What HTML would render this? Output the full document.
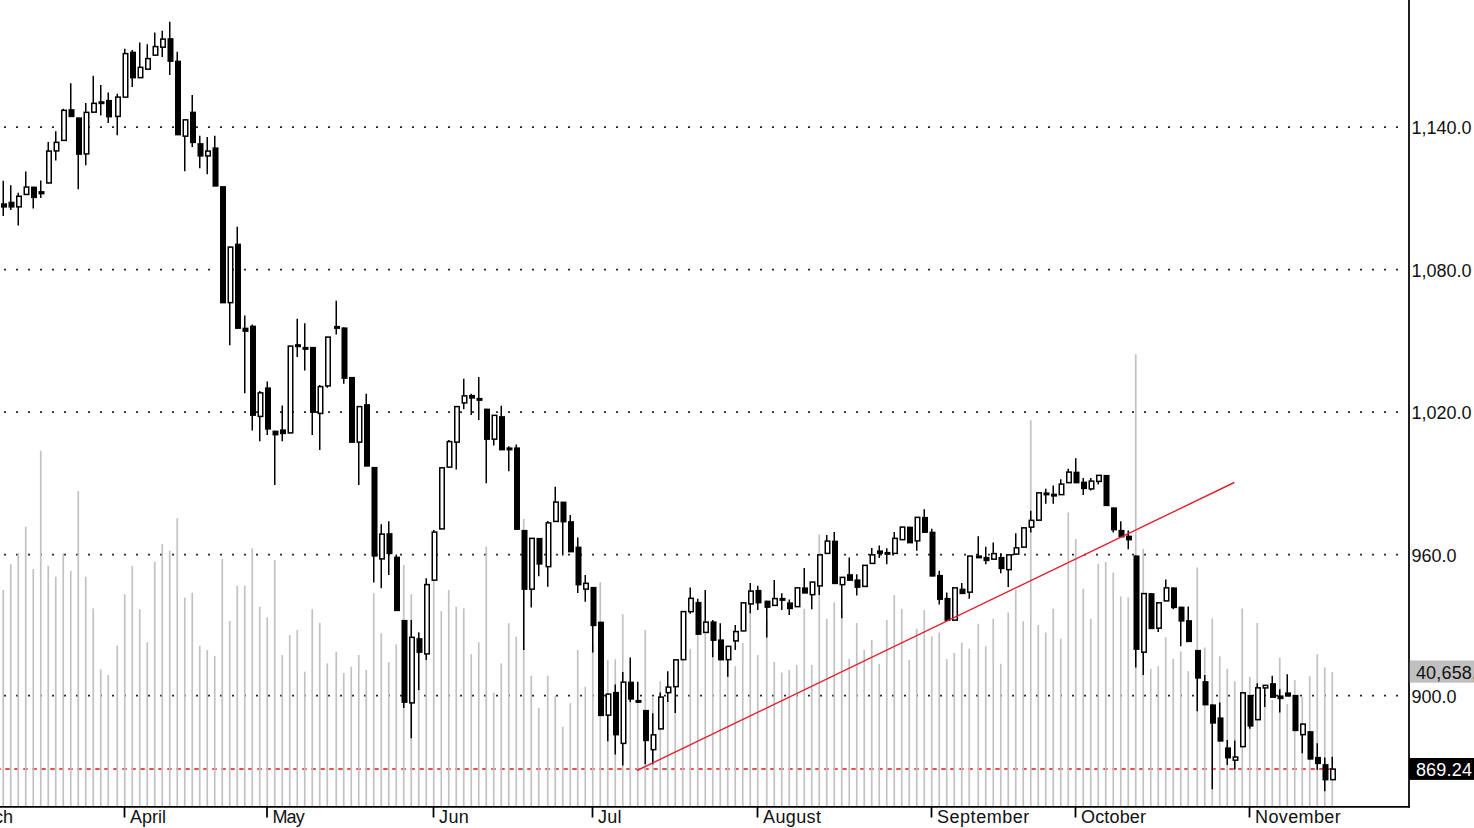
<!DOCTYPE html>
<html lang="en"><head><meta charset="utf-8"><title>Chart</title>
<style>
html,body{margin:0;padding:0;background:#fff;}
body{width:1474px;height:828px;overflow:hidden;}
svg{display:block;}
text{font-family:"Liberation Sans",Arial,sans-serif;font-size:18px;fill:#111;}
.v{stroke:#c2c2c2;stroke-width:1.7;}
.w{stroke:#000;stroke-width:1.5;}
.f{fill:#000;}
.h{fill:#fff;stroke:#000;stroke-width:1.5;}
.g{stroke:#000;stroke-width:1.7;stroke-dasharray:1.7 10.3;}
.a{stroke:#000;stroke-width:1.75;}
</style></head><body>
<svg width="1474" height="828" viewBox="0 0 1474 828">
<rect width="1474" height="828" fill="#fff"/>
<line x1="0" y1="769" x2="1331" y2="769" stroke="#e01818" stroke-width="1.6" stroke-dasharray="4.5 4.5" stroke-dashoffset="3.75"/>
<g class="g">
<line x1="4.15" y1="127.15" x2="1408" y2="127.15"/>
<line x1="4.15" y1="269.65" x2="1408" y2="269.65"/>
<line x1="4.15" y1="412.15" x2="1408" y2="412.15"/>
<line x1="4.15" y1="554.65" x2="1408" y2="554.65"/>
<line x1="4.15" y1="695.65" x2="1408" y2="695.65"/>
</g>
<g class="v">
<line x1="3.25" y1="590" x2="3.25" y2="806"/>
<line x1="10.75" y1="564.3" x2="10.75" y2="806"/>
<line x1="18.25" y1="553.3" x2="18.25" y2="806"/>
<line x1="25.75" y1="526.7" x2="25.75" y2="806"/>
<line x1="33.25" y1="569" x2="33.25" y2="806"/>
<line x1="40.75" y1="450.7" x2="40.75" y2="806"/>
<line x1="48.25" y1="565.7" x2="48.25" y2="806"/>
<line x1="55.75" y1="576.7" x2="55.75" y2="806"/>
<line x1="63.25" y1="553.3" x2="63.25" y2="806"/>
<line x1="70.75" y1="570.7" x2="70.75" y2="806"/>
<line x1="78.25" y1="491" x2="78.25" y2="806"/>
<line x1="85.75" y1="576.7" x2="85.75" y2="806"/>
<line x1="93.25" y1="608.3" x2="93.25" y2="806"/>
<line x1="100.75" y1="669.3" x2="100.75" y2="806"/>
<line x1="108.25" y1="675" x2="108.25" y2="806"/>
<line x1="117.25" y1="645.7" x2="117.25" y2="806"/>
<line x1="124.75" y1="594.3" x2="124.75" y2="806"/>
<line x1="132.25" y1="566" x2="132.25" y2="806"/>
<line x1="139.75" y1="609.3" x2="139.75" y2="806"/>
<line x1="147.25" y1="642.3" x2="147.25" y2="806"/>
<line x1="154.75" y1="561.7" x2="154.75" y2="806"/>
<line x1="162.25" y1="544" x2="162.25" y2="806"/>
<line x1="169.75" y1="550.7" x2="169.75" y2="806"/>
<line x1="177.25" y1="518.3" x2="177.25" y2="806"/>
<line x1="184.75" y1="597.7" x2="184.75" y2="806"/>
<line x1="192.25" y1="592.7" x2="192.25" y2="806"/>
<line x1="199.75" y1="645.7" x2="199.75" y2="806"/>
<line x1="207.25" y1="650" x2="207.25" y2="806"/>
<line x1="214.75" y1="656" x2="214.75" y2="806"/>
<line x1="222.25" y1="559" x2="222.25" y2="806"/>
<line x1="229.75" y1="621" x2="229.75" y2="806"/>
<line x1="237.25" y1="585.7" x2="237.25" y2="806"/>
<line x1="244.75" y1="585.7" x2="244.75" y2="806"/>
<line x1="252.25" y1="548.3" x2="252.25" y2="806"/>
<line x1="259.75" y1="606.7" x2="259.75" y2="806"/>
<line x1="267.25" y1="617.3" x2="267.25" y2="806"/>
<line x1="274.75" y1="560" x2="274.75" y2="806"/>
<line x1="282.25" y1="655" x2="282.25" y2="806"/>
<line x1="289.75" y1="635" x2="289.75" y2="806"/>
<line x1="297.25" y1="630" x2="297.25" y2="806"/>
<line x1="304.75" y1="671.7" x2="304.75" y2="806"/>
<line x1="312.25" y1="609.3" x2="312.25" y2="806"/>
<line x1="319.75" y1="622.7" x2="319.75" y2="806"/>
<line x1="327.25" y1="663.3" x2="327.25" y2="806"/>
<line x1="336.25" y1="651.7" x2="336.25" y2="806"/>
<line x1="343.75" y1="673" x2="343.75" y2="806"/>
<line x1="351.25" y1="666.7" x2="351.25" y2="806"/>
<line x1="358.75" y1="655" x2="358.75" y2="806"/>
<line x1="366.25" y1="670" x2="366.25" y2="806"/>
<line x1="373.75" y1="593.3" x2="373.75" y2="806"/>
<line x1="381.25" y1="633.3" x2="381.25" y2="806"/>
<line x1="388.75" y1="662.3" x2="388.75" y2="806"/>
<line x1="396.25" y1="644.3" x2="396.25" y2="806"/>
<line x1="403.75" y1="565" x2="403.75" y2="806"/>
<line x1="411.25" y1="594.3" x2="411.25" y2="806"/>
<line x1="418.75" y1="632" x2="418.75" y2="806"/>
<line x1="426.25" y1="620" x2="426.25" y2="806"/>
<line x1="433.75" y1="581" x2="433.75" y2="806"/>
<line x1="441.25" y1="611" x2="441.25" y2="806"/>
<line x1="448.75" y1="590" x2="448.75" y2="806"/>
<line x1="456.25" y1="606.7" x2="456.25" y2="806"/>
<line x1="463.75" y1="608.3" x2="463.75" y2="806"/>
<line x1="471.25" y1="654.3" x2="471.25" y2="806"/>
<line x1="478.75" y1="642.3" x2="478.75" y2="806"/>
<line x1="486.25" y1="546.7" x2="486.25" y2="806"/>
<line x1="493.75" y1="692.7" x2="493.75" y2="806"/>
<line x1="501.25" y1="663.3" x2="501.25" y2="806"/>
<line x1="508.75" y1="623.3" x2="508.75" y2="806"/>
<line x1="516.25" y1="636.7" x2="516.25" y2="806"/>
<line x1="523.75" y1="519" x2="523.75" y2="806"/>
<line x1="531.25" y1="675.7" x2="531.25" y2="806"/>
<line x1="538.75" y1="707.7" x2="538.75" y2="806"/>
<line x1="547.75" y1="675.7" x2="547.75" y2="806"/>
<line x1="555.25" y1="695.7" x2="555.25" y2="806"/>
<line x1="562.75" y1="726.7" x2="562.75" y2="806"/>
<line x1="570.25" y1="703.3" x2="570.25" y2="806"/>
<line x1="577.75" y1="650" x2="577.75" y2="806"/>
<line x1="585.25" y1="686.7" x2="585.25" y2="806"/>
<line x1="592.75" y1="645" x2="592.75" y2="806"/>
<line x1="600.25" y1="582.3" x2="600.25" y2="806"/>
<line x1="607.75" y1="660" x2="607.75" y2="806"/>
<line x1="615.25" y1="659.25" x2="615.25" y2="806"/>
<line x1="622.75" y1="614.25" x2="622.75" y2="806"/>
<line x1="630.25" y1="690" x2="630.25" y2="806"/>
<line x1="637.75" y1="702" x2="637.75" y2="806"/>
<line x1="645.25" y1="630" x2="645.25" y2="806"/>
<line x1="652.75" y1="697.5" x2="652.75" y2="806"/>
<line x1="660.25" y1="681.25" x2="660.25" y2="806"/>
<line x1="667.75" y1="700" x2="667.75" y2="806"/>
<line x1="675.25" y1="700" x2="675.25" y2="806"/>
<line x1="682.75" y1="650" x2="682.75" y2="806"/>
<line x1="690.25" y1="648.75" x2="690.25" y2="806"/>
<line x1="697.75" y1="630" x2="697.75" y2="806"/>
<line x1="705.25" y1="625" x2="705.25" y2="806"/>
<line x1="712.75" y1="650" x2="712.75" y2="806"/>
<line x1="720.25" y1="655" x2="720.25" y2="806"/>
<line x1="727.75" y1="660" x2="727.75" y2="806"/>
<line x1="735.25" y1="666.25" x2="735.25" y2="806"/>
<line x1="742.75" y1="643" x2="742.75" y2="806"/>
<line x1="750.25" y1="612" x2="750.25" y2="806"/>
<line x1="757.75" y1="655" x2="757.75" y2="806"/>
<line x1="766.75" y1="620" x2="766.75" y2="806"/>
<line x1="774.25" y1="662" x2="774.25" y2="806"/>
<line x1="781.75" y1="672.5" x2="781.75" y2="806"/>
<line x1="789.25" y1="670" x2="789.25" y2="806"/>
<line x1="796.75" y1="665" x2="796.75" y2="806"/>
<line x1="804.25" y1="608.75" x2="804.25" y2="806"/>
<line x1="811.75" y1="665" x2="811.75" y2="806"/>
<line x1="819.25" y1="534.5" x2="819.25" y2="806"/>
<line x1="826.75" y1="618.75" x2="826.75" y2="806"/>
<line x1="834.25" y1="602.5" x2="834.25" y2="806"/>
<line x1="841.75" y1="610" x2="841.75" y2="806"/>
<line x1="849.25" y1="658.75" x2="849.25" y2="806"/>
<line x1="856.75" y1="623" x2="856.75" y2="806"/>
<line x1="864.25" y1="650" x2="864.25" y2="806"/>
<line x1="871.75" y1="640" x2="871.75" y2="806"/>
<line x1="879.25" y1="664" x2="879.25" y2="806"/>
<line x1="886.75" y1="620" x2="886.75" y2="806"/>
<line x1="894.25" y1="595" x2="894.25" y2="806"/>
<line x1="901.75" y1="608.75" x2="901.75" y2="806"/>
<line x1="909.25" y1="660" x2="909.25" y2="806"/>
<line x1="916.75" y1="628.75" x2="916.75" y2="806"/>
<line x1="924.25" y1="610" x2="924.25" y2="806"/>
<line x1="931.75" y1="636.25" x2="931.75" y2="806"/>
<line x1="939.25" y1="632.5" x2="939.25" y2="806"/>
<line x1="946.75" y1="659" x2="946.75" y2="806"/>
<line x1="954.25" y1="653" x2="954.25" y2="806"/>
<line x1="961.75" y1="642.5" x2="961.75" y2="806"/>
<line x1="969.25" y1="648.75" x2="969.25" y2="806"/>
<line x1="978.25" y1="623.75" x2="978.25" y2="806"/>
<line x1="985.75" y1="646.25" x2="985.75" y2="806"/>
<line x1="993.25" y1="618.75" x2="993.25" y2="806"/>
<line x1="1000.75" y1="663.75" x2="1000.75" y2="806"/>
<line x1="1008.25" y1="612.5" x2="1008.25" y2="806"/>
<line x1="1015.75" y1="590" x2="1015.75" y2="806"/>
<line x1="1023.25" y1="621.25" x2="1023.25" y2="806"/>
<line x1="1030.75" y1="420.2" x2="1030.75" y2="806"/>
<line x1="1038.25" y1="625" x2="1038.25" y2="806"/>
<line x1="1045.75" y1="632.5" x2="1045.75" y2="806"/>
<line x1="1053.25" y1="608.75" x2="1053.25" y2="806"/>
<line x1="1060.75" y1="638.75" x2="1060.75" y2="806"/>
<line x1="1068.25" y1="512.5" x2="1068.25" y2="806"/>
<line x1="1075.75" y1="539" x2="1075.75" y2="806"/>
<line x1="1083.25" y1="588.75" x2="1083.25" y2="806"/>
<line x1="1090.75" y1="618.75" x2="1090.75" y2="806"/>
<line x1="1098.25" y1="563.75" x2="1098.25" y2="806"/>
<line x1="1105.75" y1="562" x2="1105.75" y2="806"/>
<line x1="1113.25" y1="572.5" x2="1113.25" y2="806"/>
<line x1="1120.75" y1="596.5" x2="1120.75" y2="806"/>
<line x1="1128.25" y1="597.5" x2="1128.25" y2="806"/>
<line x1="1135.75" y1="354.2" x2="1135.75" y2="806"/>
<line x1="1143.25" y1="548.75" x2="1143.25" y2="806"/>
<line x1="1150.75" y1="668.75" x2="1150.75" y2="806"/>
<line x1="1158.25" y1="666.25" x2="1158.25" y2="806"/>
<line x1="1165.75" y1="637.25" x2="1165.75" y2="806"/>
<line x1="1173.25" y1="658.75" x2="1173.25" y2="806"/>
<line x1="1180.75" y1="651.5" x2="1180.75" y2="806"/>
<line x1="1188.25" y1="671.25" x2="1188.25" y2="806"/>
<line x1="1197.25" y1="567.5" x2="1197.25" y2="806"/>
<line x1="1204.75" y1="647.5" x2="1204.75" y2="806"/>
<line x1="1212.25" y1="618.5" x2="1212.25" y2="806"/>
<line x1="1219.75" y1="656.25" x2="1219.75" y2="806"/>
<line x1="1227.25" y1="668.75" x2="1227.25" y2="806"/>
<line x1="1234.75" y1="681.25" x2="1234.75" y2="806"/>
<line x1="1242.25" y1="608.5" x2="1242.25" y2="806"/>
<line x1="1249.75" y1="676.75" x2="1249.75" y2="806"/>
<line x1="1257.25" y1="623" x2="1257.25" y2="806"/>
<line x1="1264.75" y1="700" x2="1264.75" y2="806"/>
<line x1="1272.25" y1="700" x2="1272.25" y2="806"/>
<line x1="1279.75" y1="657.5" x2="1279.75" y2="806"/>
<line x1="1287.25" y1="704" x2="1287.25" y2="806"/>
<line x1="1294.75" y1="680" x2="1294.75" y2="806"/>
<line x1="1302.25" y1="697" x2="1302.25" y2="806"/>
<line x1="1309.75" y1="676.25" x2="1309.75" y2="806"/>
<line x1="1317.25" y1="654.25" x2="1317.25" y2="806"/>
<line x1="1324.75" y1="667.5" x2="1324.75" y2="806"/>
<line x1="1332.25" y1="672" x2="1332.25" y2="806"/>
</g>
<g>
<line class="w" x1="3.25" y1="180.8" x2="3.25" y2="216"/>
<rect class="f" x="1" y="203.3" width="6" height="4.3"/>
<line class="w" x1="10.75" y1="185.2" x2="10.75" y2="210"/>
<rect class="f" x="8.5" y="201.7" width="6" height="5.9"/>
<line class="w" x1="18.25" y1="192.7" x2="18.25" y2="225.4"/>
<rect class="h" x="16.75" y="196.25" width="4.5" height="10.6"/>
<line class="w" x1="25.75" y1="171.6" x2="25.75" y2="194.8"/>
<rect class="h" x="24.25" y="187.05" width="4.5" height="7.4"/>
<line class="w" x1="33.25" y1="186.7" x2="33.25" y2="208.4"/>
<rect class="f" x="31" y="186.6" width="6" height="11.5"/>
<line class="w" x1="40.75" y1="180.5" x2="40.75" y2="198.1"/>
<rect class="f" x="38.5" y="191.1" width="6" height="3.3"/>
<line class="w" x1="48.25" y1="142" x2="48.25" y2="183.3"/>
<rect class="h" x="46.75" y="151.1" width="4.5" height="31.85"/>
<line class="w" x1="55.75" y1="131.25" x2="55.75" y2="160.6"/>
<rect class="h" x="54.25" y="142.35" width="4.5" height="8.55"/>
<line class="w" x1="63.25" y1="108.75" x2="63.25" y2="140.75"/>
<rect class="h" x="61.75" y="110.35" width="4.5" height="30.05"/>
<line class="w" x1="70.75" y1="83.25" x2="70.75" y2="116.75"/>
<rect class="f" x="68.5" y="109.15" width="6" height="8"/>
<line class="w" x1="78.25" y1="117.5" x2="78.25" y2="189.3"/>
<rect class="f" x="76" y="117.4" width="6" height="37.5"/>
<line class="w" x1="85.75" y1="103" x2="85.75" y2="165.2"/>
<rect class="h" x="84.25" y="112.35" width="4.5" height="41.55"/>
<line class="w" x1="93.25" y1="75.75" x2="93.25" y2="112.5"/>
<rect class="h" x="91.75" y="103.35" width="4.5" height="8.8"/>
<line class="w" x1="100.75" y1="85" x2="100.75" y2="115.5"/>
<rect class="f" x="98.5" y="101.2" width="6" height="3"/>
<line class="w" x1="108.25" y1="92.5" x2="108.25" y2="123"/>
<rect class="f" x="106" y="99.9" width="6" height="17.5"/>
<line class="w" x1="117.25" y1="93.75" x2="117.25" y2="135.25"/>
<rect class="h" x="115.75" y="97.1" width="4.5" height="19.3"/>
<line class="w" x1="124.75" y1="48.75" x2="124.75" y2="97.5"/>
<rect class="h" x="123.25" y="53.6" width="4.5" height="43.55"/>
<line class="w" x1="132.25" y1="50" x2="132.25" y2="87"/>
<rect class="f" x="130" y="51.65" width="6" height="26.75"/>
<line class="w" x1="139.75" y1="42.5" x2="139.75" y2="78"/>
<rect class="h" x="138.25" y="67.35" width="4.5" height="10.3"/>
<line class="w" x1="147.25" y1="44.25" x2="147.25" y2="69.5"/>
<rect class="h" x="145.75" y="58.6" width="4.5" height="10.55"/>
<line class="w" x1="154.75" y1="32.5" x2="154.75" y2="55.5"/>
<rect class="h" x="153.25" y="46.6" width="4.5" height="8.55"/>
<line class="w" x1="162.25" y1="30.75" x2="162.25" y2="57"/>
<rect class="h" x="160.75" y="39.1" width="4.5" height="8.05"/>
<line class="w" x1="169.75" y1="21.75" x2="169.75" y2="75"/>
<rect class="f" x="167.5" y="38.15" width="6" height="23.75"/>
<line class="w" x1="177.25" y1="51.75" x2="177.25" y2="135"/>
<rect class="f" x="175" y="60.65" width="6" height="74.75"/>
<line class="w" x1="184.75" y1="119.5" x2="184.75" y2="171.25"/>
<rect class="h" x="183.25" y="119.85" width="4.5" height="16.3"/>
<line class="w" x1="192.25" y1="95" x2="192.25" y2="147"/>
<rect class="f" x="190" y="111.65" width="6" height="31.5"/>
<line class="w" x1="199.75" y1="135.75" x2="199.75" y2="168.25"/>
<rect class="f" x="197.5" y="143.15" width="6" height="13.5"/>
<line class="w" x1="207.25" y1="137" x2="207.25" y2="174.25"/>
<rect class="h" x="205.75" y="151.1" width="4.5" height="4.8"/>
<line class="w" x1="214.75" y1="135.75" x2="214.75" y2="186.25"/>
<rect class="f" x="212.5" y="147.4" width="6" height="39.25"/>
<line class="w" x1="222.25" y1="186.25" x2="222.25" y2="303"/>
<rect class="f" x="220" y="186.15" width="6" height="117.25"/>
<line class="w" x1="229.75" y1="246.75" x2="229.75" y2="345.25"/>
<rect class="h" x="228.25" y="247.1" width="4.5" height="55.55"/>
<line class="w" x1="237.25" y1="226.75" x2="237.25" y2="328.5"/>
<rect class="f" x="235" y="243.65" width="6" height="85.25"/>
<line class="w" x1="244.75" y1="315.5" x2="244.75" y2="393.25"/>
<rect class="f" x="242.5" y="327.65" width="6" height="4.25"/>
<line class="w" x1="252.25" y1="324.5" x2="252.25" y2="430.5"/>
<rect class="f" x="250" y="325.65" width="6" height="90.25"/>
<line class="w" x1="259.75" y1="391" x2="259.75" y2="441.25"/>
<rect class="h" x="258.25" y="392.85" width="4.5" height="23.55"/>
<line class="w" x1="267.25" y1="381.5" x2="267.25" y2="435"/>
<rect class="f" x="265" y="387.4" width="6" height="42.25"/>
<line class="w" x1="274.75" y1="430.75" x2="274.75" y2="485"/>
<rect class="f" x="272.5" y="430.65" width="6" height="4.75"/>
<line class="w" x1="282.25" y1="405.5" x2="282.25" y2="441.25"/>
<rect class="f" x="280" y="429.4" width="6" height="4.75"/>
<line class="w" x1="289.75" y1="345.75" x2="289.75" y2="433.25"/>
<rect class="h" x="288.25" y="346.1" width="4.5" height="86.8"/>
<line class="w" x1="297.25" y1="318.75" x2="297.25" y2="357"/>
<rect class="f" x="295" y="344.2" width="6" height="3"/>
<line class="w" x1="304.75" y1="323.25" x2="304.75" y2="370.5"/>
<rect class="f" x="302.5" y="346.9" width="6" height="3"/>
<line class="w" x1="312.25" y1="347" x2="312.25" y2="435"/>
<rect class="f" x="310" y="346.9" width="6" height="66"/>
<line class="w" x1="319.75" y1="385" x2="319.75" y2="450"/>
<rect class="h" x="318.25" y="386.6" width="4.5" height="26.8"/>
<line class="w" x1="327.25" y1="336.75" x2="327.25" y2="387.75"/>
<rect class="h" x="325.75" y="337.1" width="4.5" height="48.8"/>
<line class="w" x1="336.25" y1="300.75" x2="336.25" y2="334.5"/>
<rect class="f" x="334" y="325.9" width="6" height="3"/>
<line class="w" x1="343.75" y1="327.5" x2="343.75" y2="383.75"/>
<rect class="f" x="341.5" y="327.4" width="6" height="51.5"/>
<line class="w" x1="351.25" y1="377" x2="351.25" y2="442.5"/>
<rect class="f" x="349" y="376.9" width="6" height="66"/>
<line class="w" x1="358.75" y1="406.25" x2="358.75" y2="485"/>
<rect class="h" x="357.25" y="406.6" width="4.5" height="35.55"/>
<line class="w" x1="366.25" y1="393.75" x2="366.25" y2="466.25"/>
<rect class="f" x="364" y="404.15" width="6" height="62.5"/>
<line class="w" x1="373.75" y1="467" x2="373.75" y2="582.5"/>
<rect class="f" x="371.5" y="466.9" width="6" height="89.75"/>
<line class="w" x1="381.25" y1="524.25" x2="381.25" y2="588.25"/>
<rect class="h" x="379.75" y="534.1" width="4.5" height="24.8"/>
<line class="w" x1="388.75" y1="521.25" x2="388.75" y2="575"/>
<rect class="f" x="386.5" y="533.15" width="6" height="21"/>
<line class="w" x1="396.25" y1="554.5" x2="396.25" y2="610.75"/>
<rect class="f" x="394" y="556.65" width="6" height="54.5"/>
<line class="w" x1="403.75" y1="620" x2="403.75" y2="708"/>
<rect class="f" x="401.5" y="619.9" width="6" height="83"/>
<line class="w" x1="411.25" y1="620" x2="411.25" y2="738.25"/>
<rect class="h" x="409.75" y="637.35" width="4.5" height="65.55"/>
<line class="w" x1="418.75" y1="632.5" x2="418.75" y2="690"/>
<rect class="f" x="416.5" y="638.15" width="6" height="14.75"/>
<line class="w" x1="426.25" y1="578.25" x2="426.25" y2="660"/>
<rect class="h" x="424.75" y="584.6" width="4.5" height="69.3"/>
<line class="w" x1="433.75" y1="530" x2="433.75" y2="580.5"/>
<rect class="h" x="432.25" y="532.1" width="4.5" height="48.05"/>
<line class="w" x1="441.25" y1="467.5" x2="441.25" y2="529.25"/>
<rect class="h" x="439.75" y="467.85" width="4.5" height="61.05"/>
<line class="w" x1="448.75" y1="440" x2="448.75" y2="467.5"/>
<rect class="h" x="447.25" y="441.6" width="4.5" height="25.55"/>
<line class="w" x1="456.25" y1="406.25" x2="456.25" y2="469.5"/>
<rect class="h" x="454.75" y="406.6" width="4.5" height="35.55"/>
<line class="w" x1="463.75" y1="378.75" x2="463.75" y2="409.25"/>
<rect class="h" x="462.25" y="395.85" width="4.5" height="7.05"/>
<line class="w" x1="471.25" y1="393.75" x2="471.25" y2="415"/>
<rect class="f" x="469" y="394.9" width="6" height="3.75"/>
<line class="w" x1="478.75" y1="377" x2="478.75" y2="420"/>
<rect class="f" x="476.5" y="397.9" width="6" height="3"/>
<line class="w" x1="486.25" y1="408.75" x2="486.25" y2="483.25"/>
<rect class="f" x="484" y="408.65" width="6" height="31.25"/>
<line class="w" x1="493.75" y1="415" x2="493.75" y2="445.5"/>
<rect class="h" x="492.25" y="415.35" width="4.5" height="23.8"/>
<line class="w" x1="501.25" y1="405.75" x2="501.25" y2="450"/>
<rect class="f" x="499" y="416.15" width="6" height="34.25"/>
<line class="w" x1="508.75" y1="446.25" x2="508.75" y2="471.25"/>
<rect class="f" x="506.5" y="447.4" width="6" height="3"/>
<line class="w" x1="516.25" y1="444.5" x2="516.25" y2="529.5"/>
<rect class="f" x="514" y="447.4" width="6" height="82.5"/>
<line class="w" x1="523.75" y1="530" x2="523.75" y2="650"/>
<rect class="f" x="521.5" y="529.9" width="6" height="60"/>
<line class="w" x1="531.25" y1="538" x2="531.25" y2="607.5"/>
<rect class="h" x="529.75" y="538.35" width="4.5" height="50.8"/>
<line class="w" x1="538.75" y1="538" x2="538.75" y2="576.25"/>
<rect class="f" x="536.5" y="537.9" width="6" height="26.75"/>
<line class="w" x1="547.75" y1="521" x2="547.75" y2="586.75"/>
<rect class="h" x="546.25" y="522.85" width="4.5" height="43.8"/>
<line class="w" x1="555.25" y1="486.75" x2="555.25" y2="521.75"/>
<rect class="h" x="553.75" y="502.1" width="4.5" height="19.3"/>
<line class="w" x1="562.75" y1="501.75" x2="562.75" y2="555.5"/>
<rect class="f" x="560.5" y="501.65" width="6" height="20.75"/>
<line class="w" x1="570.25" y1="515" x2="570.25" y2="552"/>
<rect class="f" x="568" y="521.15" width="6" height="31.25"/>
<line class="w" x1="577.75" y1="537.5" x2="577.75" y2="593"/>
<rect class="f" x="575.5" y="546.65" width="6" height="38.75"/>
<line class="w" x1="585.25" y1="575" x2="585.25" y2="601.75"/>
<rect class="h" x="583.75" y="583.35" width="4.5" height="5.8"/>
<line class="w" x1="592.75" y1="587" x2="592.75" y2="652.5"/>
<rect class="f" x="590.5" y="586.9" width="6" height="39.25"/>
<line class="w" x1="600.25" y1="621.75" x2="600.25" y2="715.75"/>
<rect class="f" x="598" y="621.65" width="6" height="94.5"/>
<line class="w" x1="607.75" y1="693.75" x2="607.75" y2="741.25"/>
<rect class="h" x="606.25" y="694.1" width="4.5" height="21.05"/>
<line class="w" x1="615.25" y1="684.5" x2="615.25" y2="754.5"/>
<rect class="f" x="613" y="691.9" width="6" height="43.5"/>
<line class="w" x1="622.75" y1="672" x2="622.75" y2="765.5"/>
<rect class="h" x="621.25" y="682.1" width="4.5" height="61.3"/>
<line class="w" x1="630.25" y1="657.5" x2="630.25" y2="702"/>
<rect class="f" x="628" y="681.65" width="6" height="18"/>
<line class="w" x1="637.75" y1="681.75" x2="637.75" y2="702.5"/>
<rect class="f" x="635.5" y="699.9" width="6" height="3"/>
<line class="w" x1="645.25" y1="710" x2="645.25" y2="764.25"/>
<rect class="f" x="643" y="709.9" width="6" height="31.25"/>
<line class="w" x1="652.75" y1="713.25" x2="652.75" y2="764.25"/>
<rect class="h" x="651.25" y="734.85" width="4.5" height="14.8"/>
<line class="w" x1="660.25" y1="692.5" x2="660.25" y2="729.25"/>
<rect class="h" x="658.75" y="697.1" width="4.5" height="31.8"/>
<line class="w" x1="667.75" y1="671.25" x2="667.75" y2="702"/>
<rect class="h" x="666.25" y="687.1" width="4.5" height="5.55"/>
<line class="w" x1="675.25" y1="659.5" x2="675.25" y2="713"/>
<rect class="h" x="673.75" y="659.85" width="4.5" height="26.8"/>
<line class="w" x1="682.75" y1="611.25" x2="682.75" y2="660"/>
<rect class="h" x="681.25" y="611.6" width="4.5" height="48.05"/>
<line class="w" x1="690.25" y1="587.5" x2="690.25" y2="613.75"/>
<rect class="h" x="688.75" y="598.35" width="4.5" height="13.3"/>
<line class="w" x1="697.75" y1="598.75" x2="697.75" y2="634.5"/>
<rect class="f" x="695.5" y="601.9" width="6" height="33"/>
<line class="w" x1="705.25" y1="590" x2="705.25" y2="632.75"/>
<rect class="h" x="703.75" y="622.1" width="4.5" height="10.3"/>
<line class="w" x1="712.75" y1="620" x2="712.75" y2="657.25"/>
<rect class="f" x="710.5" y="621.4" width="6" height="19.5"/>
<line class="w" x1="720.25" y1="623.25" x2="720.25" y2="660"/>
<rect class="f" x="718" y="639.4" width="6" height="21"/>
<line class="w" x1="727.75" y1="646" x2="727.75" y2="676.75"/>
<rect class="h" x="726.25" y="646.35" width="4.5" height="13.3"/>
<line class="w" x1="735.25" y1="625" x2="735.25" y2="650"/>
<rect class="h" x="733.75" y="631.6" width="4.5" height="9.3"/>
<line class="w" x1="742.75" y1="602.5" x2="742.75" y2="631.25"/>
<rect class="h" x="741.25" y="602.85" width="4.5" height="28.05"/>
<line class="w" x1="750.25" y1="583" x2="750.25" y2="613.25"/>
<rect class="h" x="748.75" y="591.1" width="4.5" height="12.8"/>
<line class="w" x1="757.75" y1="585.75" x2="757.75" y2="610"/>
<rect class="f" x="755.5" y="589.9" width="6" height="13.5"/>
<line class="w" x1="766.75" y1="600.75" x2="766.75" y2="637.5"/>
<rect class="f" x="764.5" y="600.65" width="6" height="7.25"/>
<line class="w" x1="774.25" y1="580" x2="774.25" y2="605.75"/>
<rect class="h" x="772.75" y="598.6" width="4.5" height="6.8"/>
<line class="w" x1="781.75" y1="593.25" x2="781.75" y2="610"/>
<rect class="f" x="779.5" y="597.9" width="6" height="3"/>
<line class="w" x1="789.25" y1="599.5" x2="789.25" y2="615"/>
<rect class="f" x="787" y="602.4" width="6" height="6.75"/>
<line class="w" x1="796.75" y1="587.5" x2="796.75" y2="607"/>
<rect class="h" x="795.25" y="587.85" width="4.5" height="18.8"/>
<line class="w" x1="804.25" y1="568" x2="804.25" y2="593.25"/>
<rect class="f" x="802" y="587.4" width="6" height="6.25"/>
<line class="w" x1="811.75" y1="581.75" x2="811.75" y2="609.25"/>
<rect class="h" x="810.25" y="582.1" width="4.5" height="12.55"/>
<line class="w" x1="819.25" y1="554.5" x2="819.25" y2="595"/>
<rect class="h" x="817.75" y="554.85" width="4.5" height="31.05"/>
<line class="w" x1="826.75" y1="535" x2="826.75" y2="553.75"/>
<rect class="h" x="825.25" y="541.1" width="4.5" height="12.3"/>
<line class="w" x1="834.25" y1="532" x2="834.25" y2="583.75"/>
<rect class="f" x="832" y="540.65" width="6" height="43.5"/>
<line class="w" x1="841.75" y1="577" x2="841.75" y2="618.25"/>
<rect class="h" x="840.25" y="577.35" width="4.5" height="7.3"/>
<line class="w" x1="849.25" y1="557.5" x2="849.25" y2="580.5"/>
<rect class="f" x="847" y="574.15" width="6" height="6.75"/>
<line class="w" x1="856.75" y1="574.25" x2="856.75" y2="595.5"/>
<rect class="f" x="854.5" y="579.4" width="6" height="8.5"/>
<line class="w" x1="864.25" y1="565" x2="864.25" y2="586.75"/>
<rect class="h" x="862.75" y="565.35" width="4.5" height="21.05"/>
<line class="w" x1="871.75" y1="548" x2="871.75" y2="563.75"/>
<rect class="h" x="870.25" y="554.85" width="4.5" height="8.55"/>
<line class="w" x1="879.25" y1="545.5" x2="879.25" y2="558"/>
<rect class="f" x="877" y="550.4" width="6" height="3.5"/>
<line class="w" x1="886.75" y1="548.25" x2="886.75" y2="564.25"/>
<rect class="f" x="884.5" y="551.9" width="6" height="3"/>
<line class="w" x1="894.25" y1="532" x2="894.25" y2="553.75"/>
<rect class="h" x="892.75" y="538.35" width="4.5" height="15.05"/>
<line class="w" x1="901.75" y1="526.75" x2="901.75" y2="540"/>
<rect class="h" x="900.25" y="527.1" width="4.5" height="12.55"/>
<line class="w" x1="909.25" y1="526.75" x2="909.25" y2="543"/>
<rect class="f" x="907" y="526.65" width="6" height="16.75"/>
<line class="w" x1="916.75" y1="517" x2="916.75" y2="550.75"/>
<rect class="h" x="915.25" y="517.35" width="4.5" height="23.55"/>
<line class="w" x1="924.25" y1="509.25" x2="924.25" y2="532.5"/>
<rect class="f" x="922" y="516.9" width="6" height="16"/>
<line class="w" x1="931.75" y1="528.75" x2="931.75" y2="576.25"/>
<rect class="f" x="929.5" y="531.65" width="6" height="45"/>
<line class="w" x1="939.25" y1="570.75" x2="939.25" y2="604.5"/>
<rect class="f" x="937" y="574.9" width="6" height="25"/>
<line class="w" x1="946.75" y1="592.5" x2="946.75" y2="620.5"/>
<rect class="f" x="944.5" y="597.9" width="6" height="23"/>
<line class="w" x1="954.25" y1="587.5" x2="954.25" y2="620.5"/>
<rect class="h" x="952.75" y="587.85" width="4.5" height="32.3"/>
<line class="w" x1="961.75" y1="583" x2="961.75" y2="593.75"/>
<rect class="f" x="959.5" y="588.65" width="6" height="5.5"/>
<line class="w" x1="969.25" y1="555.75" x2="969.25" y2="598.75"/>
<rect class="h" x="967.75" y="556.1" width="4.5" height="36.05"/>
<line class="w" x1="978.25" y1="536.25" x2="978.25" y2="558"/>
<rect class="f" x="976" y="555.4" width="6" height="3"/>
<line class="w" x1="985.75" y1="546.75" x2="985.75" y2="564.25"/>
<rect class="f" x="983.5" y="556.9" width="6" height="4.25"/>
<line class="w" x1="993.25" y1="542.5" x2="993.25" y2="559.5"/>
<rect class="h" x="991.75" y="553.6" width="4.5" height="5.55"/>
<line class="w" x1="1000.75" y1="553.25" x2="1000.75" y2="573.25"/>
<rect class="f" x="998.5" y="556.9" width="6" height="12.25"/>
<line class="w" x1="1008.25" y1="554.5" x2="1008.25" y2="587"/>
<rect class="h" x="1006.75" y="554.85" width="4.5" height="14.8"/>
<line class="w" x1="1015.75" y1="533.25" x2="1015.75" y2="554.5"/>
<rect class="h" x="1014.25" y="547.85" width="4.5" height="6.3"/>
<line class="w" x1="1023.25" y1="527.5" x2="1023.25" y2="547.5"/>
<rect class="h" x="1021.75" y="527.85" width="4.5" height="19.3"/>
<line class="w" x1="1030.75" y1="510.75" x2="1030.75" y2="532.5"/>
<rect class="h" x="1029.25" y="520.35" width="4.5" height="6.8"/>
<line class="w" x1="1038.25" y1="492.5" x2="1038.25" y2="520.5"/>
<rect class="h" x="1036.75" y="492.85" width="4.5" height="27.3"/>
<line class="w" x1="1045.75" y1="488.75" x2="1045.75" y2="503.75"/>
<rect class="f" x="1043.5" y="492.4" width="6" height="3"/>
<line class="w" x1="1053.25" y1="485.5" x2="1053.25" y2="503.75"/>
<rect class="f" x="1051" y="493.65" width="6" height="3"/>
<line class="w" x1="1060.75" y1="479.25" x2="1060.75" y2="495"/>
<rect class="h" x="1059.25" y="484.1" width="4.5" height="10.55"/>
<line class="w" x1="1068.25" y1="468.75" x2="1068.25" y2="483"/>
<rect class="h" x="1066.75" y="472.1" width="4.5" height="10.55"/>
<line class="w" x1="1075.75" y1="458.25" x2="1075.75" y2="483"/>
<rect class="f" x="1073.5" y="471.65" width="6" height="11.75"/>
<line class="w" x1="1083.25" y1="478" x2="1083.25" y2="495"/>
<rect class="f" x="1081" y="481.65" width="6" height="7.5"/>
<line class="w" x1="1090.75" y1="478" x2="1090.75" y2="490.5"/>
<rect class="h" x="1089.25" y="481.1" width="4.5" height="7.8"/>
<line class="w" x1="1098.25" y1="475" x2="1098.25" y2="484.5"/>
<rect class="h" x="1096.75" y="475.35" width="4.5" height="6.05"/>
<line class="w" x1="1105.75" y1="475" x2="1105.75" y2="505.75"/>
<rect class="f" x="1103.5" y="474.9" width="6" height="31.25"/>
<line class="w" x1="1113.25" y1="507.5" x2="1113.25" y2="532.5"/>
<rect class="f" x="1111" y="507.4" width="6" height="23"/>
<line class="w" x1="1120.75" y1="521.25" x2="1120.75" y2="537"/>
<rect class="f" x="1118.5" y="529.9" width="6" height="7.5"/>
<line class="w" x1="1128.25" y1="530.5" x2="1128.25" y2="549.25"/>
<rect class="f" x="1126" y="535.65" width="6" height="4.75"/>
<line class="w" x1="1135.75" y1="555.5" x2="1135.75" y2="667.5"/>
<rect class="f" x="1133.5" y="555.4" width="6" height="94.5"/>
<line class="w" x1="1143.25" y1="593.25" x2="1143.25" y2="675"/>
<rect class="h" x="1141.75" y="593.6" width="4.5" height="58.55"/>
<line class="w" x1="1150.75" y1="593.25" x2="1150.75" y2="628.75"/>
<rect class="f" x="1148.5" y="593.15" width="6" height="36"/>
<line class="w" x1="1158.25" y1="602.5" x2="1158.25" y2="632"/>
<rect class="h" x="1156.75" y="602.85" width="4.5" height="25.3"/>
<line class="w" x1="1165.75" y1="579.5" x2="1165.75" y2="601.25"/>
<rect class="h" x="1164.25" y="587.85" width="4.5" height="13.05"/>
<line class="w" x1="1173.25" y1="587.5" x2="1173.25" y2="609.25"/>
<rect class="f" x="1171" y="587.4" width="6" height="20.75"/>
<line class="w" x1="1180.75" y1="606.75" x2="1180.75" y2="646.25"/>
<rect class="f" x="1178.5" y="606.65" width="6" height="15"/>
<line class="w" x1="1188.25" y1="606.5" x2="1188.25" y2="641.75"/>
<rect class="f" x="1186" y="620.15" width="6" height="22"/>
<line class="w" x1="1197.25" y1="650" x2="1197.25" y2="711.25"/>
<rect class="f" x="1195" y="649.9" width="6" height="28.75"/>
<line class="w" x1="1204.75" y1="675" x2="1204.75" y2="705"/>
<rect class="f" x="1202.5" y="681.15" width="6" height="24.25"/>
<line class="w" x1="1212.25" y1="704.5" x2="1212.25" y2="789.25"/>
<rect class="f" x="1210" y="704.4" width="6" height="19.25"/>
<line class="w" x1="1219.75" y1="702.5" x2="1219.75" y2="741.25"/>
<rect class="f" x="1217.5" y="717.4" width="6" height="24.25"/>
<line class="w" x1="1227.25" y1="740" x2="1227.25" y2="765"/>
<rect class="f" x="1225" y="747.4" width="6" height="11"/>
<line class="w" x1="1234.75" y1="740.5" x2="1234.75" y2="769.5"/>
<rect class="h" x="1233.25" y="757.1" width="4.5" height="3.05"/>
<line class="w" x1="1242.25" y1="692.5" x2="1242.25" y2="747"/>
<rect class="h" x="1240.75" y="692.85" width="4.5" height="53.8"/>
<line class="w" x1="1249.75" y1="695" x2="1249.75" y2="728.75"/>
<rect class="f" x="1247.5" y="694.9" width="6" height="31.75"/>
<line class="w" x1="1257.25" y1="683.25" x2="1257.25" y2="720"/>
<rect class="h" x="1255.75" y="687.85" width="4.5" height="31.8"/>
<line class="w" x1="1264.75" y1="685" x2="1264.75" y2="707"/>
<rect class="h" x="1263.25" y="685.35" width="4.5" height="2.55"/>
<line class="w" x1="1272.25" y1="675.75" x2="1272.25" y2="697.5"/>
<rect class="f" x="1270" y="683.15" width="6" height="14.75"/>
<line class="w" x1="1279.75" y1="689.25" x2="1279.75" y2="712.5"/>
<rect class="f" x="1277.5" y="695.4" width="6" height="3.75"/>
<line class="w" x1="1287.25" y1="674.25" x2="1287.25" y2="696.25"/>
<rect class="f" x="1285" y="692.4" width="6" height="4.25"/>
<line class="w" x1="1294.75" y1="695" x2="1294.75" y2="730.75"/>
<rect class="f" x="1292.5" y="694.9" width="6" height="36.25"/>
<line class="w" x1="1302.25" y1="723.75" x2="1302.25" y2="753.25"/>
<rect class="h" x="1300.75" y="724.1" width="4.5" height="10.55"/>
<line class="w" x1="1309.75" y1="731.25" x2="1309.75" y2="759.25"/>
<rect class="f" x="1307.5" y="731.15" width="6" height="28.5"/>
<line class="w" x1="1317.25" y1="743.25" x2="1317.25" y2="770"/>
<rect class="f" x="1315" y="756.9" width="6" height="7.25"/>
<line class="w" x1="1324.75" y1="757.5" x2="1324.75" y2="791.25"/>
<rect class="f" x="1322.5" y="764.15" width="6" height="16.25"/>
<line class="w" x1="1332.25" y1="756.75" x2="1332.25" y2="780"/>
<rect class="h" x="1330.75" y="769.1" width="4.5" height="10.55"/>
</g>
<line x1="637" y1="770.5" x2="1234.25" y2="482.5" stroke="#e2202c" stroke-width="1.4"/>
<g class="a">
<line x1="1409" y1="0" x2="1409" y2="807.55"/>
<line x1="0" y1="806.75" x2="1409.8" y2="806.75"/>
<line x1="124.5" y1="806.75" x2="124.5" y2="817.5"/>
<line x1="267" y1="806.75" x2="267" y2="817.5"/>
<line x1="433.5" y1="806.75" x2="433.5" y2="817.5"/>
<line x1="592.5" y1="806.75" x2="592.5" y2="817.5"/>
<line x1="757.5" y1="806.75" x2="757.5" y2="817.5"/>
<line x1="931.5" y1="806.75" x2="931.5" y2="817.5"/>
<line x1="1075.5" y1="806.75" x2="1075.5" y2="817.5"/>
<line x1="1249.5" y1="806.75" x2="1249.5" y2="817.5"/>
</g>
<text x="-37" y="822.9">March</text>
<text x="130" y="822.9" textLength="36" lengthAdjust="spacing">April</text>
<text x="272.5" y="822.9" textLength="32.2" lengthAdjust="spacing">May</text>
<text x="439" y="822.9" textLength="29.8" lengthAdjust="spacing">Jun</text>
<text x="598" y="822.9" textLength="23.5" lengthAdjust="spacing">Jul</text>
<text x="763" y="822.9" textLength="58" lengthAdjust="spacing">August</text>
<text x="937" y="822.9" textLength="92.3" lengthAdjust="spacing">September</text>
<text x="1081" y="822.9" textLength="65" lengthAdjust="spacing">October</text>
<text x="1255" y="822.9" textLength="85.7" lengthAdjust="spacing">November</text>
<text x="1411.5" y="134">1,140.0</text>
<text x="1411.5" y="276.5">1,080.0</text>
<text x="1411.5" y="419">1,020.0</text>
<text x="1411.5" y="561.5">960.0</text>
<text x="1411.5" y="702.5">900.0</text>
<rect x="1409.8" y="660.5" width="64.4" height="22.2" fill="#c0c0c0"/>
<text x="1415.9" y="678.5" style="letter-spacing:0.18px">40,658,272</text>
<rect x="1409" y="758" width="65" height="21.9" fill="#000"/>
<text x="1415.9" y="775.6" style="fill:#fff;letter-spacing:0.22px">869.24</text>
</svg>
</body></html>
